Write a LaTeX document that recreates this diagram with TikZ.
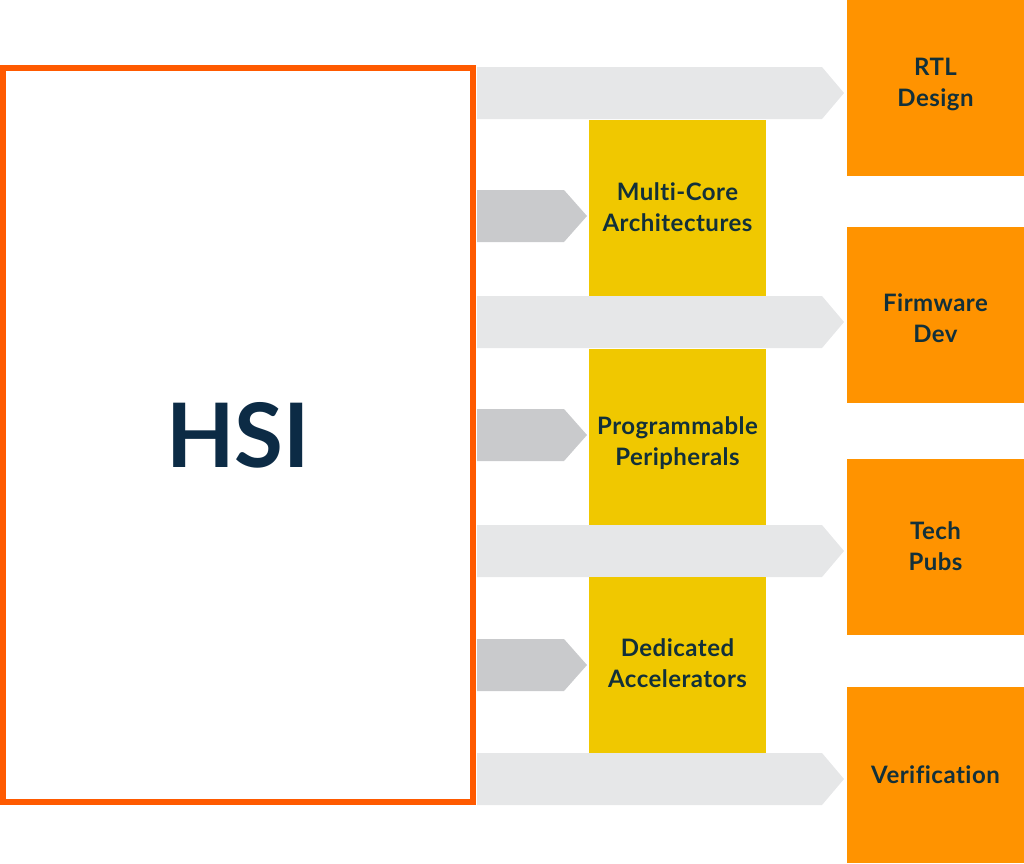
\documentclass[tikz,border=0pt]{standalone}
\usepackage{fontspec}
\setmainfont{Lato}[Ligatures=NoCommon]
\newfontfamily\tilefont{Lato}[Ligatures=NoCommon, LetterSpace=2]
\usetikzlibrary{positioning}

\definecolor{hsiorange}{HTML}{FF5A00}
\definecolor{boxorange}{HTML}{FF9300}
\definecolor{boxyellow}{HTML}{F0C800}
\definecolor{bandgrey}{HTML}{E6E7E8}
\definecolor{stubgrey}{HTML}{C9CACC}
\definecolor{labeltext}{HTML}{12303A}
\definecolor{hsitext}{HTML}{0C2B45}

\tikzset{
  tilebox/.style={minimum width=177pt, minimum height=176pt, inner sep=0pt},
  tiletext/.style={align=center, inner sep=0pt, text=labeltext,
    font=\tilefont\bfseries\fontsize{24}{31}\selectfont},
  outbox/.style={tilebox, fill=boxorange},
  corebox/.style={tilebox, fill=boxyellow},
  band/.style={fill=bandgrey},
  stub/.style={fill=stubgrey}
}

\begin{document}
\begin{tikzpicture}[x=1pt, y=-1pt]
    \useasboundingbox (0,0) rectangle (1024,863);

    \node[draw=hsiorange, line width=6pt, minimum width=470pt, minimum height=734pt,
          text=hsitext, font=\bfseries\fontsize{89}{89}\selectfont] (hsi) at (238,435) {HSI};

    % long bands to the outputs
    \foreach \t in {67, 296, 525, 753}
        \fill[band] (477,\t) -- (822,\t) -- (844,\t+26) -- (822,\t+52) -- (477,\t+52) -- cycle;
    % short stubs into the cores
    \foreach \t in {190, 409, 639}
        \fill[stub] (477,\t) -- (564,\t) -- (587,\t+26) -- (564,\t+52) -- (477,\t+52) -- cycle;

    \node[corebox, label={[tiletext, yshift=1pt]center:Multi-Core\\Architectures}] (multicore) at (677.5,208) {};
    \node[corebox, label={[tiletext, yshift=-7pt]center:Programmable\\Peripherals}] (periph) at (677.5,436.5) {};
    \node[corebox, label={[tiletext, yshift=2pt]center:Dedicated\\Accelerators}] (accel) at (677.5,665) {};

    \node[outbox, label={[tiletext, yshift=3pt]center:RTL\\Design}] (rtl) at (935.5,87.5) {};
    \node[outbox, label={[tiletext, yshift=-4pt]center:Firmware\\Dev}] (firmware) at (935.5,314.5) {};
    \node[outbox, label={[tiletext]center:Tech\\Pubs}] (techpubs) at (935.5,546.5) {};
    \node[outbox, label={[tiletext]center:Verification}] (verif) at (935.5,775) {};
\end{tikzpicture}
\end{document}
